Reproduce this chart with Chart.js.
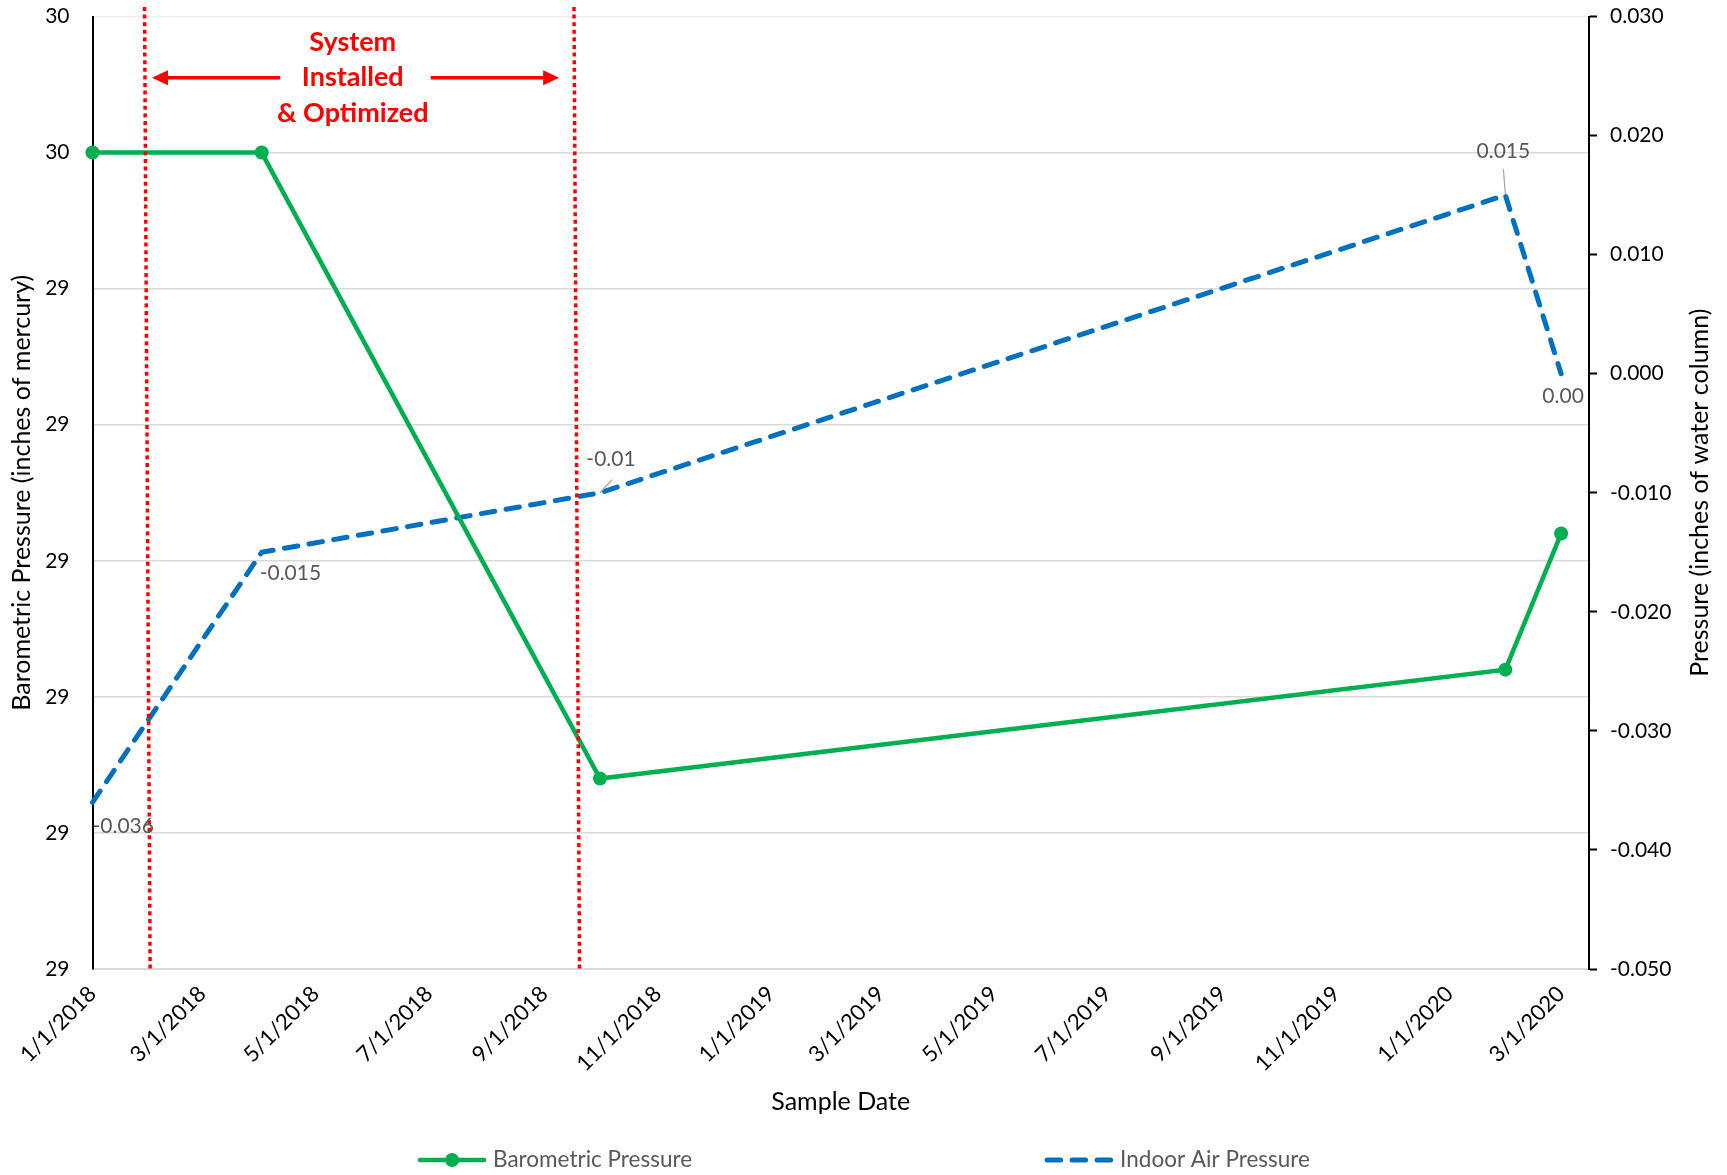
<!DOCTYPE html>
<html>
<head>
<meta charset="utf-8">
<script src="https://cdn.jsdelivr.net/npm/chart.js@4/dist/chart.umd.min.js"></script>
<style>
  html, body { margin: 0; padding: 0; background: #ffffff; }
  #wrap { width: 1727px; height: 1175px; }
</style>
</head>
<body>
<div id="wrap"><canvas id="chart" width="1727" height="1175"></canvas></div>
<script>
// Sample dates shared by both series
const sampleDates = ['1/1/2018', '4/2/2018', '10/1/2018', '1/31/2020', '3/1/2020'];
// Barometric pressure, inches of mercury (left axis)
const barometricPressure = [29.5, 29.5, 29.04, 29.12, 29.22];
// Indoor air pressure, inches of water column (right axis)
const indoorAirPressure = [-0.036, -0.015, -0.01, 0.015, 0.00];
// Decimal places shown in each indoor pressure label
const indoorLabelDecimals = [3, 3, 2, 3, 2];

// Date axis
const xAxisStart = '1/1/2018';
const xAxisEnd = '3/16/2020';
const xTickLabels = ['1/1/2018', '3/1/2018', '5/1/2018', '7/1/2018', '9/1/2018', '11/1/2018',
  '1/1/2019', '3/1/2019', '5/1/2019', '7/1/2019', '9/1/2019', '11/1/2019', '1/1/2020', '3/1/2020'];

// Left axis ticks (inches of mercury, whole-number format)
const leftTickValues = [28.9, 29.0, 29.1, 29.2, 29.3, 29.4, 29.5, 29.6];
const leftTickLabels = ['29', '29', '29', '29', '29', '29', '30', '30'];
// Right axis ticks (inches of water column)
const rightTickValues = [-0.05, -0.04, -0.03, -0.02, -0.01, 0, 0.01, 0.02, 0.03];
const rightTickLabels = ['-0.050', '-0.040', '-0.030', '-0.020', '-0.010', '0.000', '0.010', '0.020', '0.030'];

// Installation period note
const installText = ['System', 'Installed', '& Optimized'];
const installLineDates = [['1/29/2018', '2/1/2018'], ['9/17/2018', '9/20/2018']]; // top, bottom
const installArrowDates = [['4/12/2018', '2/2/2018'], ['7/2/2018', '9/9/2018']];  // tail, tip
const installTextDate = '5/21/2018';

const DAY = 86400000;
function dayNum(s) {
  const [m, d, y] = s.split('/').map(Number);
  return Date.UTC(y, m - 1, d) / DAY;
}

const FONT = 'Lato';
const W = 1727, H = 1175;

// Keep the plot frame fixed: no extra room reserved for edge tick labels
function noEdgePadding(s) {
  s.paddingTop = 0; s.paddingBottom = 0; s.paddingLeft = 0; s.paddingRight = 0;
}

// Red dotted markers, arrows and caption for the installation period
const installNotePlugin = {
  id: 'installNote',
  afterDatasetsDraw(chart) {
    const { ctx } = chart;
    const x = chart.scales.x, y = chart.scales.yL;
    ctx.save();
    ctx.strokeStyle = '#FF0000';
    ctx.lineWidth = 3.5;
    ctx.setLineDash([4, 3.6]);
    installLineDates.forEach(([top, bottom]) => {
      ctx.beginPath();
      ctx.moveTo(x.getPixelForValue(dayNum(top)), y.getPixelForValue(29.607));
      ctx.lineTo(x.getPixelForValue(dayNum(bottom)), y.getPixelForValue(28.898));
      ctx.stroke();
    });
    ctx.setLineDash([]);
    const ay = y.getPixelForValue(29.555);
    ctx.fillStyle = '#FF0000';
    installArrowDates.forEach(([tail, tip]) => {
      const x0 = x.getPixelForValue(dayNum(tail));
      const x1 = x.getPixelForValue(dayNum(tip));
      const dir = Math.sign(x1 - x0);
      const head = 16;
      ctx.beginPath();
      ctx.moveTo(x0, ay);
      ctx.lineTo(x1 - dir * head, ay);
      ctx.stroke();
      ctx.beginPath();
      ctx.moveTo(x1, ay);
      ctx.lineTo(x1 - dir * head, ay - 7.5);
      ctx.lineTo(x1 - dir * head, ay + 7.5);
      ctx.closePath();
      ctx.fill();
    });
    ctx.font = 'bold 27px ' + FONT;
    ctx.textAlign = 'center';
    ctx.textBaseline = 'middle';
    const tx = x.getPixelForValue(dayNum(installTextDate));
    [29.581, 29.555, 29.529].forEach((lvl, i) => {
      ctx.fillText(installText[i], tx, y.getPixelForValue(lvl));
    });
    ctx.restore();
  }
};

// Value labels on the indoor air pressure series
const labelPlacement = [
  { dx: 0, dy: 24, align: 'left' },
  { dx: -2, dy: 21, align: 'left' },
  { dx: 11, dy: -34, align: 'center', leader: [0, 0, 12, -13] },
  { dx: -2, dy: -44, align: 'center', leader: [0, -1, -2, -26] },
  { dx: 2, dy: 23, align: 'center' }
];
const valueLabelPlugin = {
  id: 'valueLabels',
  afterDatasetsDraw(chart) {
    const { ctx } = chart;
    const meta = chart.getDatasetMeta(1);
    ctx.save();
    ctx.font = '21px ' + FONT;
    ctx.textBaseline = 'middle';
    meta.data.forEach((pt, i) => {
      const p = labelPlacement[i];
      if (p.leader) {
        ctx.strokeStyle = '#A6A6A6';
        ctx.lineWidth = 1.2;
        ctx.beginPath();
        ctx.moveTo(pt.x + p.leader[0], pt.y + p.leader[1]);
        ctx.lineTo(pt.x + p.leader[2], pt.y + p.leader[3]);
        ctx.stroke();
      }
      ctx.fillStyle = '#595959';
      ctx.textAlign = p.align;
      ctx.fillText(indoorAirPressure[i].toFixed(indoorLabelDecimals[i]), pt.x + p.dx, pt.y + p.dy);
    });
    ctx.restore();
  }
};

// Right axis title (reads bottom to top) and the legend row
const framePlugin = {
  id: 'frame',
  afterDraw(chart) {
    const { ctx, chartArea } = chart;
    ctx.save();
    ctx.font = '25px ' + FONT;
    ctx.fillStyle = '#000000';
    ctx.textAlign = 'center';
    ctx.textBaseline = 'middle';
    ctx.translate(1700, (chartArea.top + chartArea.bottom) / 2);
    ctx.rotate(-Math.PI / 2);
    ctx.fillText('Pressure (inches of water column)', 0, 0);
    ctx.restore();

    // legend
    ctx.save();
    ctx.font = '22.5px ' + FONT;
    ctx.textBaseline = 'middle';
    ctx.textAlign = 'left';
    const ds = chart.data.datasets;
    const sample = 70, gapText = 6, gapItems = 352;
    const widths = ds.map(d => ctx.measureText(d.label).width);
    const total = 2 * (sample + gapText) + widths[0] + widths[1] + gapItems;
    let lx = (W - total) / 2;
    const ly = 1160;
    ds.forEach((d, i) => {
      ctx.strokeStyle = d.borderColor;
      ctx.lineWidth = d.borderWidth;
      ctx.lineCap = 'round';
      ctx.setLineDash(d.borderDash || []);
      ctx.beginPath();
      ctx.moveTo(lx + 3, ly);
      ctx.lineTo(lx + sample - 3, ly);
      ctx.stroke();
      ctx.setLineDash([]);
      if (d.pointRadius > 0) {
        ctx.fillStyle = d.pointBackgroundColor;
        ctx.beginPath();
        ctx.arc(lx + sample / 2, ly, d.pointRadius, 0, Math.PI * 2);
        ctx.fill();
      }
      ctx.fillStyle = '#595959';
      ctx.fillText(d.label, lx + sample + gapText, ly);
      lx += sample + gapText + widths[i] + gapItems;
    });
    ctx.restore();
  }
};

function build() {
  Chart.defaults.font.family = FONT;
  const xs = sampleDates.map(dayNum);
  new Chart(document.getElementById('chart'), {
    type: 'line',
    data: {
      datasets: [
        {
          label: 'Barometric Pressure',
          data: xs.map((x, i) => ({ x, y: barometricPressure[i] })),
          yAxisID: 'yL',
          borderColor: '#00B050',
          backgroundColor: '#00B050',
          borderWidth: 4.5,
          pointRadius: 7,
          pointHoverRadius: 7,
          pointBackgroundColor: '#00B050',
          pointBorderWidth: 0,
          tension: 0,
          clip: false
        },
        {
          label: 'Indoor Air Pressure',
          data: xs.map((x, i) => ({ x, y: indoorAirPressure[i] })),
          yAxisID: 'yR',
          borderColor: '#0070C0',
          backgroundColor: '#0070C0',
          borderWidth: 5,
          borderDash: [13.5, 11.5],
          borderCapStyle: 'round',
          borderJoinStyle: 'round',
          pointRadius: 0,
          tension: 0,
          clip: false
        }
      ]
    },
    options: {
      responsive: false,
      animation: false,
      devicePixelRatio: 1,
      layout: { padding: { top: 16.5, left: 0, right: 0, bottom: 0 } },
      plugins: { legend: { display: false }, tooltip: { enabled: false } },
      scales: {
        x: {
          type: 'linear',
          min: dayNum(xAxisStart),
          max: dayNum(xAxisEnd),
          afterBuildTicks: s => { s.ticks = xTickLabels.map(l => ({ value: dayNum(l) })); },
          afterFit: s => { s.height = 206; noEdgePadding(s); },
          grid: { display: false, drawTicks: false },
          border: { display: true, color: '#D9D9D9', width: 2 },
          ticks: {
            autoSkip: false, minRotation: 45, maxRotation: 45, padding: 12,
            color: '#000000', font: { family: FONT, size: 22 },
            callback: (v, i) => xTickLabels[i]
          },
          title: {
            display: true, text: 'Sample Date', color: '#000000',
            font: { family: FONT, size: 25 }, padding: { top: 0, bottom: 58 }
          }
        },
        yL: {
          position: 'left',
          min: 28.9, max: 29.6,
          afterBuildTicks: s => { s.ticks = leftTickValues.map(v => ({ value: v })); },
          afterFit: s => { s.width = 92.5; noEdgePadding(s); },
          grid: {
            color: c => (c.index === leftTickValues.length - 1 ? '#EFEFEF' : '#D9D9D9'),
            lineWidth: 1.5, drawTicks: false
          },
          border: { display: true, color: '#000000', width: 2 },
          ticks: {
            padding: 23, color: '#000000', font: { family: FONT, size: 21 },
            callback: (v, i) => leftTickLabels[i]
          },
          title: {
            display: true, text: 'Barometric Pressure (inches of mercury)', color: '#000000',
            font: { family: FONT, size: 25 }, padding: { top: 7, bottom: 0 }
          }
        },
        yR: {
          position: 'right',
          min: -0.05, max: 0.03,
          afterBuildTicks: s => { s.ticks = rightTickValues.map(v => ({ value: v })); },
          afterFit: s => { s.width = 138; noEdgePadding(s); },
          grid: {
            drawOnChartArea: false, drawTicks: true, tickLength: 8,
            tickColor: '#000000', tickWidth: 2
          },
          border: { display: true, color: '#000000', width: 2 },
          ticks: {
            padding: 13, color: '#000000', font: { family: FONT, size: 21 },
            callback: (v, i) => rightTickLabels[i]
          }
        }
      }
    },
    plugins: [installNotePlugin, valueLabelPlugin, framePlugin]
  });
}

if (document.fonts && document.fonts.load) {
  Promise.all([
    document.fonts.load('21px Lato'),
    document.fonts.load('bold 27px Lato')
  ]).then(build, build);
} else {
  build();
}
</script>
</body>
</html>
